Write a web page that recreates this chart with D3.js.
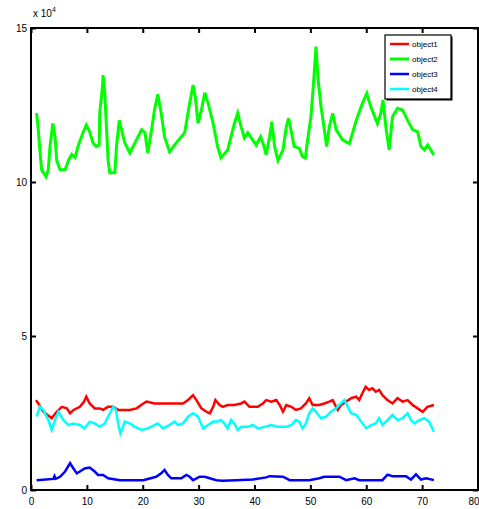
<!DOCTYPE html>
<html>
<head>
<meta charset="utf-8">
<script src="https://cdn.jsdelivr.net/npm/d3@7"></script>
<style>
  html, body { margin: 0; padding: 0; background: #fff; }
  svg { display: block; }
  text { font-family: "Liberation Sans", Arial, Helvetica, sans-serif; fill: #000; }
</style>
</head>
<body>
<svg id="chart" width="479" height="509"></svg>
<script>
// Values are in units of 10^4.
const object1X = [0.9,1.3,2.2,3.7,4.6,5.5,6.4,7.0,7.6,8.75,9.5,9.9,10.5,11.4,12.3,12.9,13.8,14.7,15.6,17.7,18.9,20.1,20.7,22.1,27.2,28.1,29.0,29.6,30.5,31.4,32.0,32.6,33.0,33.75,34.3,35.2,36.4,37.6,38.2,39.1,40.6,41.5,42.1,43.0,43.9,44.5,45.1,45.7,46.6,47.4,48.3,49.2,49.8,50.4,51.6,52.5,53.4,54.0,54.6,54.9,55.5,56.4,57.3,58.2,58.75,59.3,59.9,60.5,61.1,61.7,62.3,62.9,63.8,64.7,65.6,66.5,67.4,68.3,69.2,70.1,70.95,72.1];
const object1Y = [2.92,2.81,2.54,2.33,2.54,2.70,2.65,2.49,2.60,2.70,2.87,3.03,2.81,2.65,2.65,2.60,2.70,2.70,2.60,2.60,2.65,2.81,2.87,2.81,2.81,2.92,3.08,2.92,2.65,2.54,2.49,2.70,2.92,2.76,2.70,2.76,2.76,2.81,2.87,2.70,2.70,2.81,2.92,2.87,2.92,2.76,2.54,2.76,2.70,2.60,2.65,2.81,2.98,2.76,2.76,2.81,2.87,2.92,2.70,2.60,2.76,2.87,2.98,3.03,2.92,3.14,3.35,3.25,3.30,3.19,3.25,3.08,2.92,2.81,2.98,2.87,2.92,2.76,2.65,2.54,2.70,2.76];

const object2X = [1.0,1.3,1.6,1.9,2.7,3.1,3.4,3.9,4.3,4.6,5.2,6.1,6.7,7.3,7.9,8.4,9.3,9.9,10.5,11.1,11.7,12.2,12.3,12.8,12.9,13.2,13.5,13.8,14.1,15.0,15.3,15.8,16.2,16.8,17.7,18.6,19.8,20.4,20.9,21.5,22.1,22.7,23.3,23.9,24.8,25.7,27.5,28.4,29.0,29.4,29.9,30.5,31.1,31.7,32.6,33.4,34.0,35.2,36.4,37.0,37.6,38.2,38.8,39.7,40.3,41.1,41.7,42.1,42.7,43.1,43.6,44.2,45.1,45.7,46.1,46.6,47.1,48.0,48.6,49.1,49.5,50.1,50.6,51.0,51.4,51.9,52.5,52.9,53.4,54.0,54.6,55.8,57.0,58.2,59.3,60.1,60.8,62.0,62.6,63.0,63.5,64.1,64.7,65.6,66.5,67.4,68.3,69.2,69.8,70.4,71.0,72.1];
const object2Y = [12.24,11.70,11.00,10.40,10.17,10.40,11.15,11.90,11.47,10.70,10.40,10.40,10.70,10.90,10.80,11.15,11.60,11.85,11.63,11.27,11.15,11.20,12.24,13.10,13.47,12.90,11.80,10.70,10.30,10.30,11.15,12.00,11.70,11.27,10.94,11.27,11.70,11.60,10.94,11.60,12.34,12.85,12.24,11.47,10.98,11.20,11.60,12.56,13.15,12.77,11.90,12.34,12.90,12.56,11.90,11.15,10.78,11.04,11.90,12.24,11.80,11.43,11.60,11.36,11.20,11.47,11.15,10.88,11.47,11.96,11.15,10.70,11.04,11.80,12.07,11.63,11.15,11.10,10.82,10.78,11.36,12.12,13.30,14.40,13.30,12.45,11.70,11.15,11.80,12.23,11.70,11.36,11.25,12.00,12.55,12.88,12.45,11.90,12.23,12.66,11.80,11.04,12.12,12.39,12.34,12.00,11.70,11.63,11.15,11.04,11.20,10.88];

const object3X = [1.0,4.0,4.2,4.4,5.2,6.1,7.0,7.6,8.2,8.75,9.6,10.5,11.4,12.0,12.9,13.8,15.9,20.1,22.4,23.3,23.9,24.5,25.1,26.9,27.8,28.4,29.0,30.2,31.1,32.0,33.2,34.3,36.7,39.7,42.1,42.7,45.1,46.3,49.8,51.6,52.5,55.2,56.4,57.9,58.75,62.9,63.8,64.7,67.1,68.0,68.9,69.8,70.7,72.1];
const object3Y = [0.32,0.36,0.45,0.36,0.43,0.60,0.87,0.70,0.54,0.60,0.70,0.73,0.60,0.49,0.49,0.38,0.32,0.32,0.43,0.54,0.65,0.49,0.38,0.38,0.49,0.43,0.32,0.43,0.43,0.38,0.32,0.30,0.32,0.34,0.41,0.45,0.43,0.32,0.32,0.38,0.43,0.43,0.32,0.38,0.32,0.32,0.50,0.45,0.45,0.34,0.51,0.34,0.38,0.32];

const object4X = [1.0,1.6,2.2,3.1,3.7,4.3,4.9,5.8,6.7,7.6,8.75,9.6,10.5,11.4,12.3,13.2,14.1,14.7,15.2,15.6,16.0,16.8,17.7,18.6,19.8,20.9,22.1,22.7,23.6,24.8,25.7,26.3,27.2,28.1,29.0,29.9,30.8,31.7,32.6,33.4,34.0,34.6,35.2,35.8,36.4,37.0,37.6,38.8,39.7,40.6,41.8,43.0,44.2,45.7,46.6,47.4,48.0,48.6,49.2,49.8,50.4,51.0,51.9,52.8,53.7,54.6,55.2,55.8,56.1,56.7,57.3,58.2,59.1,60.0,60.9,61.7,62.3,62.9,63.8,64.7,65.6,66.5,67.4,68.0,68.6,69.5,70.4,71.25,72.1];
const object4Y = [2.38,2.70,2.60,2.27,1.95,2.27,2.54,2.27,2.11,2.16,2.11,2.00,2.22,2.16,2.05,2.16,2.49,2.70,2.60,2.16,1.84,2.22,2.16,2.05,1.95,2.00,2.11,2.16,2.00,2.11,2.22,2.11,2.16,2.38,2.49,2.38,2.00,2.11,2.22,2.22,2.27,2.16,2.00,2.27,2.16,1.95,2.05,2.05,2.11,2.00,2.05,2.11,2.05,2.05,2.11,2.27,2.22,2.00,2.16,2.49,2.65,2.54,2.33,2.38,2.54,2.65,2.76,2.87,2.92,2.70,2.49,2.44,2.22,2.00,2.11,2.16,2.33,2.11,2.27,2.44,2.27,2.33,2.49,2.27,2.16,2.27,2.33,2.22,1.89];

const seriesNames = ["object1", "object2", "object3", "object4"];
const seriesColors = ["#ff0000", "#00ff00", "#0000ff", "#00ffff"];
const seriesWidths = [2.5, 3, 2.5, 2.5];

const xTicks = [0, 10, 20, 30, 40, 50, 60, 70, 80];
const yTicks = [0, 5, 10, 15];

const seriesX = [object1X, object2X, object3X, object4X];
const seriesY = [object1Y, object2Y, object3Y, object4Y];

const svg = d3.select("#chart");
const margin = { left: 31, top: 28, right: 1, bottom: 19 };
const W = 479, H = 509;

const x = d3.scaleLinear().domain([0, 80]).range([margin.left, W - margin.right]);
const y = d3.scaleLinear().domain([0, 15]).range([H - margin.bottom, margin.top]);

// Series lines
const line = d3.line().x(d => x(d[0])).y(d => y(d[1]));
seriesNames.forEach((name, i) => {
  const pts = seriesX[i].map((xv, k) => [xv, seriesY[i][k]]);
  svg.append("path")
    .datum(pts)
    .attr("fill", "none")
    .attr("stroke", seriesColors[i])
    .attr("stroke-width", seriesWidths[i])
    .attr("stroke-linejoin", "miter")
    .attr("d", line);
});

// Axes, ticks pointing inward on all four sides
const tickLen = 5;
const bottomAxis = d3.axisBottom(x).tickValues(xTicks).tickSize(-tickLen).tickPadding(8);
const topAxis = d3.axisTop(x).tickValues(xTicks).tickSize(-tickLen).tickFormat("");
const leftAxis = d3.axisLeft(y).tickValues(yTicks).tickSize(-tickLen).tickPadding(4);
const rightAxis = d3.axisRight(y).tickValues(yTicks).tickSize(-tickLen).tickFormat("");

function styleAxis(g) {
  g.select(".domain").remove();
  g.selectAll(".tick line").attr("stroke", "#000").attr("stroke-width", 2);
  g.selectAll(".tick text")
    .style("font-family", "'Liberation Sans', Arial, sans-serif")
    .style("font-size", "10px")
    .attr("fill", "#000");
}

const gx = svg.append("g").attr("transform", `translate(0,${y(0)})`).call(bottomAxis).call(styleAxis);
// the last x label sits at the window edge; right-align it so it stays visible
gx.selectAll(".tick text").filter(d => d === 80).attr("text-anchor", "end").attr("dx", "1");
svg.append("g").attr("transform", `translate(0,${y(15)})`).call(topAxis).call(styleAxis);
svg.append("g").attr("transform", `translate(${x(0)},0)`).call(leftAxis).call(styleAxis);
svg.append("g").attr("transform", `translate(${x(80)},0)`).call(rightAxis).call(styleAxis);

// Frame
svg.append("rect")
  .attr("x", x(0)).attr("y", y(15))
  .attr("width", x(80) - x(0)).attr("height", y(0) - y(15))
  .attr("fill", "none").attr("stroke", "#000").attr("stroke-width", 2);

// Exponent label
const expo = svg.append("text")
  .attr("x", x(0) + 2).attr("y", y(15) - 11)
  .style("font-size", "10px");
expo.append("tspan").text("x 10");
expo.append("tspan").attr("dy", -5).style("font-size", "7px").text("4");

// Legend
const lg = svg.append("g").attr("transform", "translate(385,35)");
lg.append("rect").attr("x", 1.5).attr("y", 1.5).attr("width", 66).attr("height", 64)
  .attr("fill", "#000");
lg.append("rect").attr("x", 0).attr("y", 0).attr("width", 66).attr("height", 64)
  .attr("fill", "#fff").attr("stroke", "#000").attr("stroke-width", 1.2);
seriesNames.forEach((name, i) => {
  const ly = 9 + i * 15;
  lg.append("line")
    .attr("x1", 5).attr("x2", 24).attr("y1", ly).attr("y2", ly)
    .attr("stroke", seriesColors[i]).attr("stroke-width", seriesWidths[i]);
  lg.append("text")
    .attr("x", 27).attr("y", ly + 3)
    .style("font-size", "8px")
    .text(name);
});
</script>
</body>
</html>
